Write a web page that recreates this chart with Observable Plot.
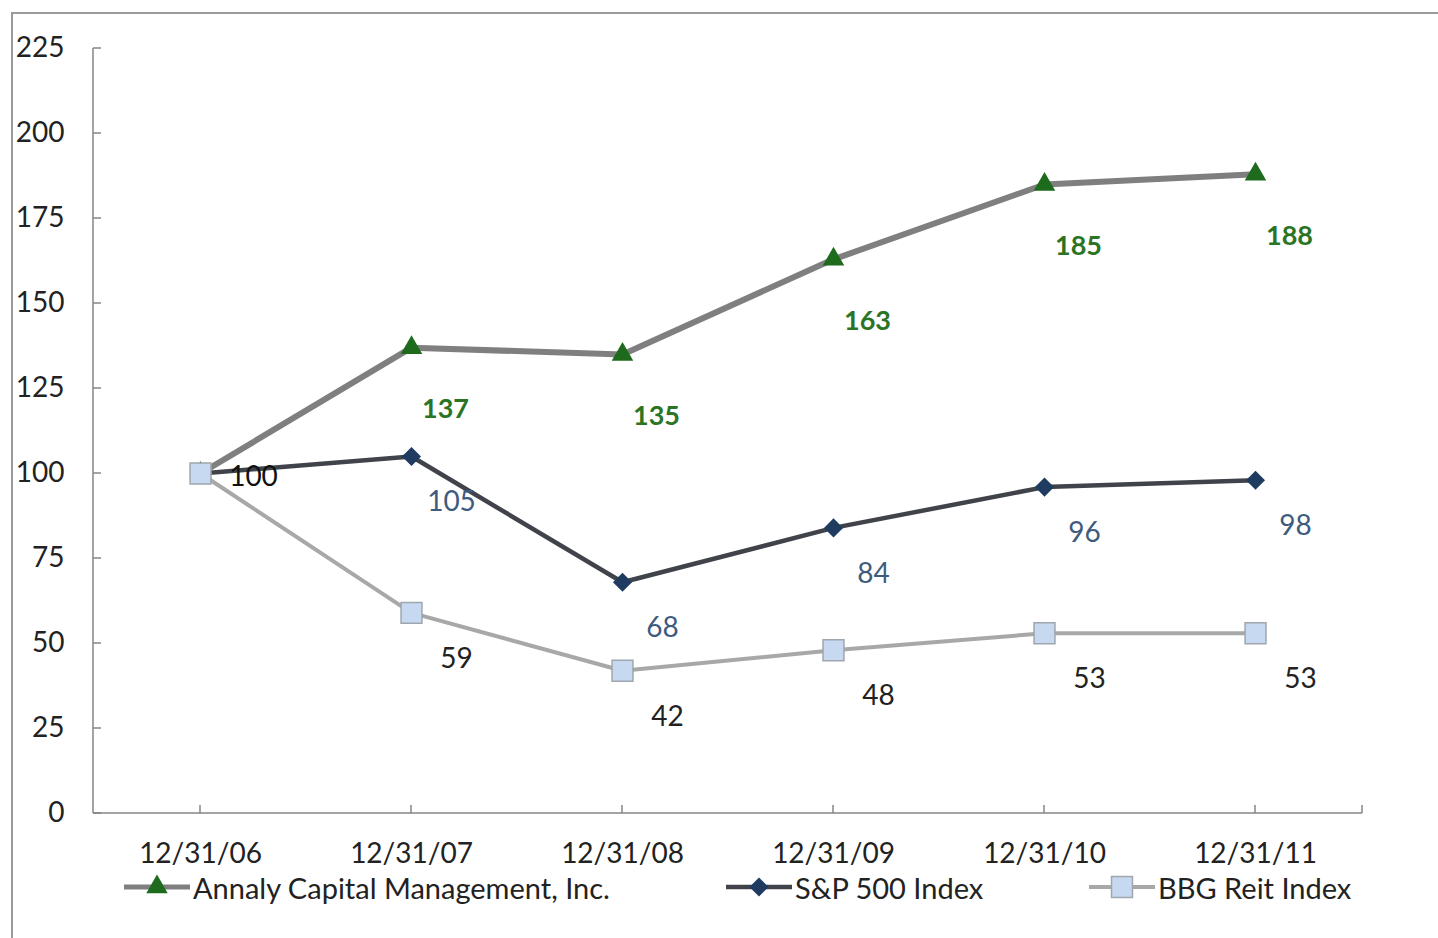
<!DOCTYPE html>
<html>
<head>
<meta charset="utf-8">
<script src="https://cdn.jsdelivr.net/npm/d3@7"></script>
<script src="https://cdn.jsdelivr.net/npm/@observablehq/plot@0.6"></script>
<style>
  html, body { margin: 0; padding: 0; background: #fff; overflow: hidden; }
  body { width: 1438px; height: 938px; position: relative; font-family: Lato, "Open Sans", sans-serif; }
  #border { position: absolute; left: 11px; top: 12px; width: 1460px; height: 960px; border: 2px solid #9a9a9a; box-sizing: border-box; }
  #chart { position: absolute; left: 0; top: 0; }
  #legend { position: absolute; left: 0; top: 870px; width: 1438px; height: 40px; }
  .item { position: absolute; top: 0; height: 34px; display: flex; align-items: center; font-size: 29px; color: #222; white-space: nowrap; }
  .item svg { margin-right: 3px; }
</style>
</head>
<body>
<div id="border"></div>
<div id="chart"></div>
<div id="legend"></div>
<script>
const dates = ["12/31/06", "12/31/07", "12/31/08", "12/31/09", "12/31/10", "12/31/11"];
const annaly = [100, 137, 135, 163, 185, 188];
const sp500 = [100, 105, 68, 84, 96, 98];
const bbgReit = [100, 59, 42, 48, 53, 53];
const yTicks = [0, 25, 50, 75, 100, 125, 150, 175, 200, 225];
const seriesNames = ["Annaly Capital Management, Inc.", "S&P 500 Index", "BBG Reit Index"];

const toRows = (vals, name) => vals.map((v, i) => ({date: dates[i], value: v, series: name, i}));
const rowsA = toRows(annaly, seriesNames[0]);
const rowsS = toRows(sp500, seriesNames[1]);
const rowsB = toRows(bbgReit, seriesNames[2]);

const W = 1438, H = 870;
const cA = {line: "#7f7f7f", mark: "#1e6b1e", label: "#2b7424"};
const cS = {line: "#40434a", mark: "#1f3b60", label: "#3e5b7e"};
const cB = {line: "#a8a8a8", mark: "#c6d9f0", edge: "#9fa6ad", label: "#222"};
const axisColor = "#868686";

// custom mark: axis lines and inward tick marks, positioned through the scales
const axisDecor = (index, scales, values, dim) => {
  const g = d3.create("svg:g").attr("stroke", axisColor).attr("stroke-width", 1.5);
  const x0 = dim.marginLeft, x1 = dim.width - dim.marginRight;
  const yTop = dim.marginTop, yBot = dim.height - dim.marginBottom;
  g.append("line").attr("x1", x0).attr("x2", x0).attr("y1", yTop).attr("y2", yBot);
  g.append("line").attr("x1", x0).attr("x2", x1).attr("y1", yBot).attr("y2", yBot);
  g.append("line").attr("x1", x1).attr("x2", x1).attr("y1", yBot).attr("y2", yBot - 8);
  for (const t of yTicks) {
    const y = scales.y(t);
    g.append("line").attr("x1", x0).attr("x2", x0 + 8).attr("y1", y).attr("y2", y);
  }
  for (const d of dates) {
    const x = scales.x(d);
    g.append("line").attr("x1", x).attr("x2", x).attr("y1", yBot).attr("y2", yBot - 8);
  }
  return g.node();
};

const plot = Plot.plot({
  width: W,
  height: H,
  marginLeft: 93,
  marginRight: 76,
  marginTop: 48,
  marginBottom: H - 813,
  style: {fontFamily: "Lato, 'Open Sans', sans-serif", background: "transparent", color: "#222"},
  x: {type: "point", domain: dates, padding: 0.5, label: null},
  y: {domain: [0, 225], label: null},
  marks: [
    Plot.axisY(yTicks, {tickSize: 0, tickPadding: 29, fontSize: 28, fill: "#222", label: null}),
    Plot.axisX(dates, {tickSize: 0, tickPadding: 30, fontSize: 28, fill: "#222", label: null}),
    axisDecor,
    Plot.line(rowsA, {x: "date", y: "value", stroke: cA.line, strokeWidth: 6}),
    Plot.line(rowsS, {x: "date", y: "value", stroke: cS.line, strokeWidth: 4.5}),
    Plot.line(rowsB, {x: "date", y: "value", stroke: cB.line, strokeWidth: 4}),
    Plot.dot(rowsA, {x: "date", y: "value", symbol: "triangle", r: 8, fill: cA.mark, stroke: "none"}),
    Plot.dot(rowsS, {x: "date", y: "value", symbol: "diamond2", r: 8.6, fill: cS.mark, stroke: "none"}),
    Plot.dot(rowsB, {x: "date", y: "value", symbol: "square", r: 11.8, fill: cB.mark, stroke: cB.edge, strokeWidth: 1.5}),
    Plot.text(rowsA.filter(d => d.i > 0), {x: "date", y: "value", text: d => String(d.value), dx: 34, dy: 62, fill: cA.label, fontWeight: "bold", fontSize: 27}),
    Plot.text(rowsS.filter(d => d.i > 0), {x: "date", y: "value", text: d => String(d.value), dx: 40, dy: 46, fill: cS.label, fontSize: 28}),
    Plot.text(rowsB.filter(d => d.i > 0), {x: "date", y: "value", text: d => String(d.value), dx: 45, dy: 46, fill: cB.label, fontSize: 28}),
    Plot.text(rowsS.filter(d => d.i === 0), {x: "date", y: "value", text: d => String(d.value), dx: 53, dy: 4, fill: "#111", fontSize: 28})
  ]
});
document.getElementById("chart").appendChild(plot);

// legend
const legend = document.getElementById("legend");
const items = [
  {name: seriesNames[0], left: 124, line: cA.line, lw: 5, sym: d3.symbolTriangle, size: 200, fill: cA.mark, stroke: "none"},
  {name: seriesNames[1], left: 726, line: cS.line, lw: 4.5, sym: d3.symbolDiamond2, size: 230, fill: cS.mark, stroke: "none"},
  {name: seriesNames[2], left: 1089, line: cB.line, lw: 4, sym: d3.symbolSquare, size: 440, fill: cB.mark, stroke: cB.edge}
];
for (const it of items) {
  const div = document.createElement("div");
  div.className = "item";
  div.style.left = it.left + "px";
  const s = d3.create("svg").attr("width", 66).attr("height", 34);
  s.append("line").attr("x1", 0).attr("x2", 66).attr("y1", 17).attr("y2", 17).attr("stroke", it.line).attr("stroke-width", it.lw);
  s.append("path").attr("d", d3.symbol(it.sym, it.size)()).attr("transform", "translate(33,17)")
    .attr("fill", it.fill).attr("stroke", it.stroke).attr("stroke-width", 1.5);
  div.appendChild(s.node());
  const t = document.createElement("span");
  t.textContent = it.name;
  div.appendChild(t);
  legend.appendChild(div);
}
</script>
</body>
</html>
